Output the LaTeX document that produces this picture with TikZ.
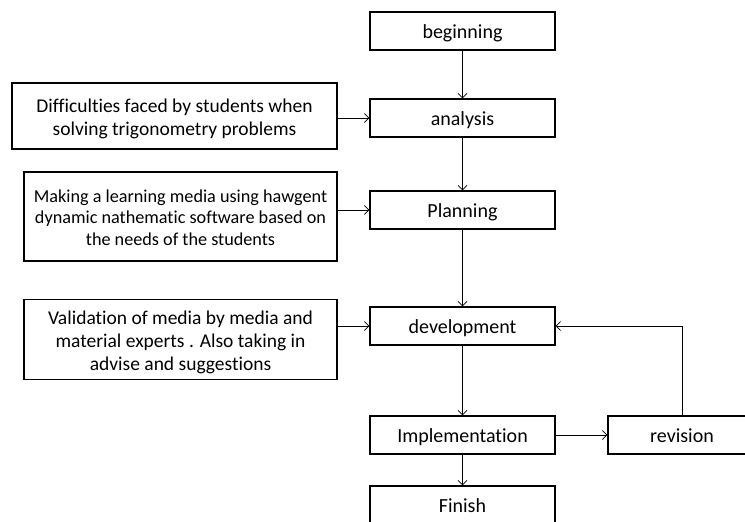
\documentclass[tikz,border=0pt]{standalone}
\usepackage{fontspec}
\setmainfont[Ligatures=CommonOff]{Carlito}
\usetikzlibrary{arrows.meta}
\newcommand{\lowtext}[1]{\raisebox{-3bp}[\height][\depth]{\begin{tabular}{@{}c@{}}#1\end{tabular}}}
\begin{document}
\begin{tikzpicture}[x=1bp,y=-1bp,
  box/.style={draw, line width=1.4bp, inner sep=0pt, align=center,
    font=\fontsize{20bp}{22.5bp}\selectfont},
  mainbox/.style={box, minimum width=185bp, minimum height=38bp},
  conn/.style={line width=0.7bp, -{Straight Barb[length=4.5bp,width=9bp]}}]
\useasboundingbox (0,0) rectangle (745,522);
\clip (0,0) rectangle (745,522);
\node[mainbox] (beg) at (462.5,31) {\lowtext{beginning}};
\node[mainbox] (ana) at (462.5,118) {\lowtext{analysis}};
\node[mainbox] (pla) at (462.5,210) {\lowtext{Planning}};
\node[mainbox] (dev) at (462.5,326) {\lowtext{development}};
\node[mainbox] (imp) at (462.5,435) {\lowtext{Implementation}};
\node[mainbox] (fin) at (462.5,505) {\lowtext{Finish}};
\node[mainbox, minimum width=148bp] (rev) at (682,435) {\lowtext{revision}};
\node[box, minimum width=325bp, minimum height=66bp,
  font=\fontsize{19.5bp}{23bp}\selectfont] (l1) at (174.5,116)
  {\lowtext{Difficulties faced by students when\\solving trigonometry problems}};
\node[box, minimum width=313bp, minimum height=89bp,
  font=\fontsize{18.2bp}{21.3bp}\selectfont] (l2) at (180.5,216.5)
  {\lowtext{Making a learning media using hawgent\\dynamic nathematic software based on\\the needs of the students}};
\node[box, minimum width=313bp, minimum height=80bp,
  font=\fontsize{19.5bp}{23bp}\selectfont] (l3) at (180.5,339.5)
  {\lowtext{Validation of media by media and\\material experts . Also taking in\\advise and suggestions}};
\draw[conn] (beg) -- (ana);
\draw[conn] (ana) -- (pla);
\draw[conn] (pla) -- (dev);
\draw[conn] (dev) -- (imp);
\draw[conn] (imp) -- (fin);
\draw[conn] (imp) -- (rev);
\draw[conn] (rev.north) |- (dev.east);
\draw[conn] (l1.east |- ana.west) -- (ana.west);
\draw[conn] (l2.east |- pla.west) -- (pla.west);
\draw[conn] (l3.east |- dev.west) -- (dev.west);
\end{tikzpicture}
\end{document}
